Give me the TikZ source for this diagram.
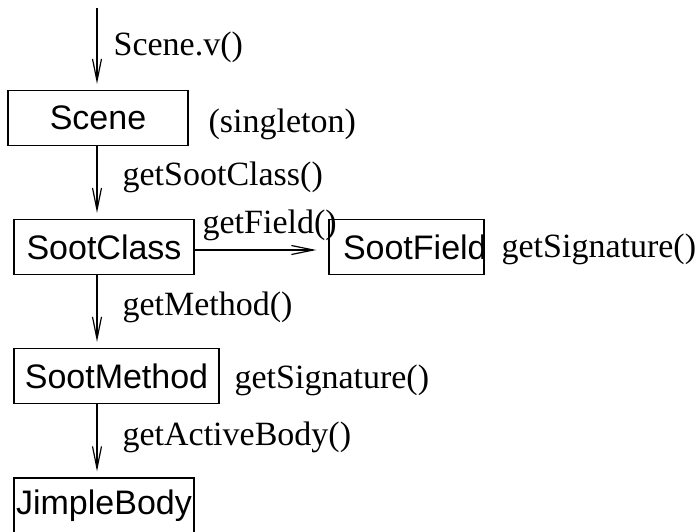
\documentclass[tikz,border=0pt]{standalone}
\usepackage{fontspec}
\setmainfont{Liberation Serif}
\setsansfont{Liberation Sans}
\usetikzlibrary{arrows.meta, positioning}

\begin{document}
\begin{tikzpicture}[x=1pt, y=-1pt, line width=1.2pt,
	box/.style={shape=rectangle, draw=black, fill=white, minimum height=55pt, inner sep=0pt, font=\sffamily\fontsize{34}{40}\selectfont},
	lbl/.style={anchor=base west, inner sep=0pt, font=\fontsize{34}{40}\selectfont},
	arr/.style={-{Straight Barb[length=22pt, width=9pt]}, shorten >=6pt}]
\useasboundingbox (0,0) rectangle (697,531);
\coordinate (top) at (97,8);
\node[box, minimum width=180pt] (scene) at (98,118) {Scene};
\node[box, minimum width=180pt] (sootclass) at (104,247) {SootClass};
\node[box, text width=127pt, inner xsep=14pt, align=left] (sootfield) at (406.5,247) {SootField};
\node[box, minimum width=205pt] (sootmethod) at (116.5,376) {SootMethod};
\node[box, minimum width=180pt] (jimplebody) at (104,505.5) {JimpleBody};
% calls
\draw[arr] (top) -- (top |- scene.north);
\foreach \a/\b in {scene/sootclass, sootclass/sootmethod, sootmethod/jimplebody}{
	\draw[arr] (top |- \a.south) -- (top |- \b.north);
}
\draw[arr, shorten >=12pt] ([yshift=-3pt]sootclass.east) -- ([yshift=-3pt]sootfield.west);
\node[lbl] (lv) at (113,55) {Scene.v()};
\node[lbl] (lsingle) at (208,132) {(singleton)};
\node[lbl] (lclass) at (122,185) {getSootClass()};
\node[lbl] (lfield) at (202,233) {getField()};
\node[lbl] (lsigfield) at (501,257) {getSignature()};
\node[lbl] (lmethod) at (122,315) {getMethod()};
\node[lbl] (lsigmethod) at (234,388) {getSignature()};
\node[lbl] (lbody) at (122,445) {getActiveBody()};
\end{tikzpicture}
\end{document}
